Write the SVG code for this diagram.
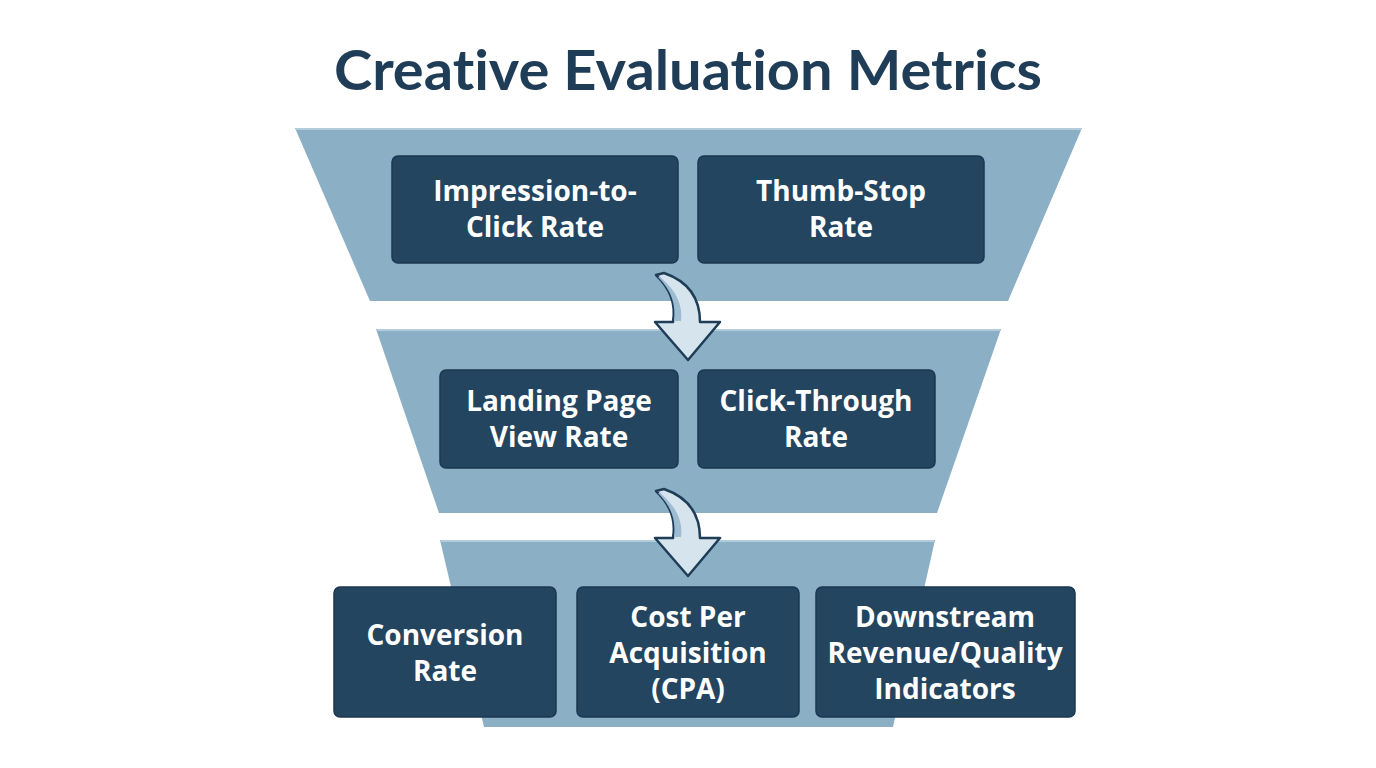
<svg xmlns="http://www.w3.org/2000/svg" width="1376" height="768" viewBox="0 0 1376 768">
  <style>
    .title { font-family: Lato, "Open Sans", "Liberation Sans", sans-serif; font-weight: 700; font-size: 56px; fill: #1f3d57; font-variant-ligatures: none; }
    .tier { fill: #8bafc5; }
    .tier-edge { stroke: #b3ccdb; stroke-width: 2; fill: none; }
    .box { fill: #234560; stroke: #1b374e; stroke-width: 1.5; }
    .lbl { font-family: "Open Sans", Lato, "Liberation Sans", sans-serif; font-weight: 700; font-size: 28px; fill: #ffffff; text-anchor: middle; }
    .arrow { fill: #d6e4ee; stroke: #1f3d57; stroke-width: 2.5; stroke-linejoin: round; }
    .arrow-shade { fill: #9dbbd1; }
  </style>
  <defs>
    <g id="curved-arrow">
      <path class="arrow" d="M 656 275 C 672 290, 676 305, 673 322 L 655 322 L 688 360 L 720 322 L 700 322 C 700 300, 690 282, 664 273 Z"/>
      <path class="arrow-shade" d="M 660 277 C 677 291, 683 306, 681 321 L 674 321 C 676 305, 672 291, 658 277 Z"/>
    </g>
  </defs>
  <rect width="1376" height="768" fill="#ffffff"/>
  <text class="title" x="688" y="90" text-anchor="middle" textLength="708" lengthAdjust="spacingAndGlyphs">Creative Evaluation Metrics</text>

  <g id="tier1">
    <polygon class="tier" points="295,128 1082,128 1008,301 370,301"/>
    <line class="tier-edge" x1="296" y1="129" x2="1081" y2="129"/>
  </g>
  <g id="tier2">
    <polygon class="tier" points="376,329 1001,329 937,513 439,513"/>
    <line class="tier-edge" x1="377" y1="330" x2="1000" y2="330"/>
  </g>
  <g id="tier3">
    <polygon class="tier" points="440,540 935,540 893,727 484,727"/>
    <line class="tier-edge" x1="441" y1="541" x2="934" y2="541"/>
  </g>

  <g id="connectors">
    <use href="#curved-arrow"/>
    <use href="#curved-arrow" transform="translate(0,216)"/>
  </g>

  <g id="impression-to-click">
    <rect class="box" x="392" y="156" width="286" height="107" rx="6"/>
    <text class="lbl" x="535" y="201">Impression-to-</text>
    <text class="lbl" x="535" y="237">Click Rate</text>
  </g>
  <g id="thumb-stop">
    <rect class="box" x="698" y="156" width="286" height="107" rx="6"/>
    <text class="lbl" x="841" y="201">Thumb-Stop</text>
    <text class="lbl" x="841" y="237">Rate</text>
  </g>
  <g id="landing-page">
    <rect class="box" x="440" y="370" width="238" height="98" rx="6"/>
    <text class="lbl" x="559" y="411">Landing Page</text>
    <text class="lbl" x="559" y="447">View Rate</text>
  </g>
  <g id="click-through">
    <rect class="box" x="698" y="370" width="237" height="98" rx="6"/>
    <text class="lbl" x="816" y="411">Click-Through</text>
    <text class="lbl" x="816" y="447">Rate</text>
  </g>
  <g id="conversion">
    <rect class="box" x="334" y="587" width="222" height="130" rx="6"/>
    <text class="lbl" x="445" y="645">Conversion</text>
    <text class="lbl" x="445" y="681">Rate</text>
  </g>
  <g id="cpa">
    <rect class="box" x="577" y="587" width="222" height="130" rx="6"/>
    <text class="lbl" x="688" y="627">Cost Per</text>
    <text class="lbl" x="688" y="663">Acquisition</text>
    <text class="lbl" x="688" y="699">(CPA)</text>
  </g>
  <g id="downstream">
    <rect class="box" x="816" y="587" width="259" height="130" rx="6"/>
    <text class="lbl" x="945" y="627">Downstream</text>
    <text class="lbl" x="945" y="663">Revenue/Quality</text>
    <text class="lbl" x="945" y="699">Indicators</text>
  </g>
</svg>
